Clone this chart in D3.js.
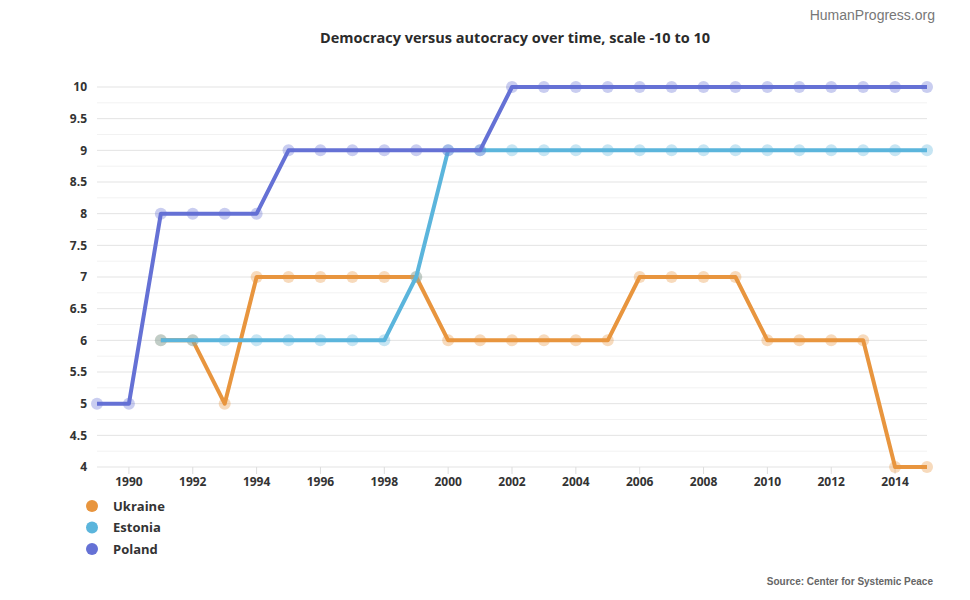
<!DOCTYPE html>
<meta charset="utf-8">
<style>
body { margin: 0; background: #fff; }
text { font-family: "Open Sans", sans-serif; }
.axis text { font-size: 12px; font-weight: 700; fill: #333; }
.line { fill: none; stroke-width: 4; stroke-linejoin: round; }
</style>
<body>
<script src="https://d3js.org/d3.v7.min.js"></script>
<script>
// data
var ukraineYears = [1991,1992,1993,1994,1995,1996,1997,1998,1999,2000,2001,2002,2003,2004,2005,2006,2007,2008,2009,2010,2011,2012,2013,2014,2015];
var ukraineValues = [6,6,5,7,7,7,7,7,7,6,6,6,6,6,6,7,7,7,7,6,6,6,6,4,4];
var estoniaYears = [1991,1992,1993,1994,1995,1996,1997,1998,1999,2000,2001,2002,2003,2004,2005,2006,2007,2008,2009,2010,2011,2012,2013,2014,2015];
var estoniaValues = [6,6,6,6,6,6,6,6,7,9,9,9,9,9,9,9,9,9,9,9,9,9,9,9,9];
var polandYears = [1989,1990,1991,1992,1993,1994,1995,1996,1997,1998,1999,2000,2001,2002,2003,2004,2005,2006,2007,2008,2009,2010,2011,2012,2013,2014,2015];
var polandValues = [5,5,8,8,8,8,9,9,9,9,9,9,9,10,10,10,10,10,10,10,10,10,10,10,10,10,10];
var seriesNames = ["Ukraine", "Estonia", "Poland"];
var seriesColors = ["#e8953e", "#5bb5dc", "#6571d5"];
var yTicks = [4,4.5,5,5.5,6,6.5,7,7.5,8,8.5,9,9.5,10];
var xTicks = [1990,1992,1994,1996,1998,2000,2002,2004,2006,2008,2010,2012,2014];

var series = [
  {name: seriesNames[0], color: seriesColors[0], data: ukraineYears.map((y, i) => ({year: y, v: ukraineValues[i]}))},
  {name: seriesNames[1], color: seriesColors[1], data: estoniaYears.map((y, i) => ({year: y, v: estoniaValues[i]}))},
  {name: seriesNames[2], color: seriesColors[2], data: polandYears.map((y, i) => ({year: y, v: polandValues[i]}))}
];

var W = 970, H = 600;
var svg = d3.select("body").append("svg").attr("width", W).attr("height", H);

var x = d3.scaleLinear().domain([1989, 2015]).range([97, 927]);
var y = d3.scaleLinear().domain([4, 10]).range([467, 87]);

// grid: minor every 0.25, major every 0.5
var minor = d3.range(4.25, 10, 0.5);
svg.append("g").selectAll("line").data(minor).enter().append("line")
  .attr("x1", 97).attr("x2", 927)
  .attr("y1", d => y(d)).attr("y2", d => y(d))
  .attr("stroke", "#f2f2f2").attr("stroke-width", 1);
svg.append("g").selectAll("line").data(yTicks).enter().append("line")
  .attr("x1", 97).attr("x2", 927)
  .attr("y1", d => y(d)).attr("y2", d => y(d))
  .attr("stroke", "#e3e3e3").attr("stroke-width", 1);

// y labels
svg.append("g").attr("class", "axis").selectAll("text").data(yTicks).enter().append("text")
  .attr("x", 87).attr("y", d => y(d)).attr("dy", "0.35em")
  .attr("text-anchor", "end")
  .text(d => d);

// x axis
var xa = svg.append("g").attr("class", "axis");
xa.selectAll("line").data(xTicks).enter().append("line")
  .attr("x1", d => x(d)).attr("x2", d => x(d))
  .attr("y1", 467).attr("y2", 474)
  .attr("stroke", "#ddd");
xa.selectAll("text").data(xTicks).enter().append("text")
  .attr("x", d => x(d)).attr("y", 486)
  .attr("text-anchor", "middle")
  .text(d => d);

var line = d3.line().x(d => x(d.year)).y(d => y(d.v));

series.forEach(function(s) {
  var g = svg.append("g");
  g.append("path").datum(s.data).attr("class", "line")
    .attr("stroke", s.color).attr("d", line);
  g.selectAll("circle").data(s.data).enter().append("circle")
    .attr("cx", d => x(d.year)).attr("cy", d => y(d.v))
    .attr("r", 6).attr("fill", s.color).attr("opacity", 0.35);
});

// title
svg.append("text").attr("x", 515).attr("y", 43)
  .attr("text-anchor", "middle")
  .style("font-size", "14.5px").style("font-weight", 700).attr("fill", "#2b2b2b")
  .text("Democracy versus autocracy over time, scale -10 to 10");

// legend
var lg = svg.append("g").selectAll("g").data(series).enter().append("g")
  .attr("transform", (d, i) => "translate(92," + (506 + i * 21.5) + ")");
lg.append("circle").attr("r", 6).attr("fill", d => d.color);
lg.append("text").attr("x", 21).attr("dy", "0.35em")
  .style("font-size", "13px").style("font-weight", 700).attr("fill", "#333")
  .text(d => d.name);

// watermark and source
svg.append("text").attr("x", 935).attr("y", 20).attr("text-anchor", "end")
  .style("font-family", "Liberation Sans, Arial, sans-serif").style("font-size", "14px")
  .attr("fill", "#777").text("HumanProgress.org");
svg.append("text").attr("x", 933).attr("y", 585).attr("text-anchor", "end")
  .style("font-family", "Liberation Sans, Arial, sans-serif").style("font-size", "10px")
  .style("font-weight", 700).attr("fill", "#666").text("Source: Center for Systemic Peace");
</script>
</body>
